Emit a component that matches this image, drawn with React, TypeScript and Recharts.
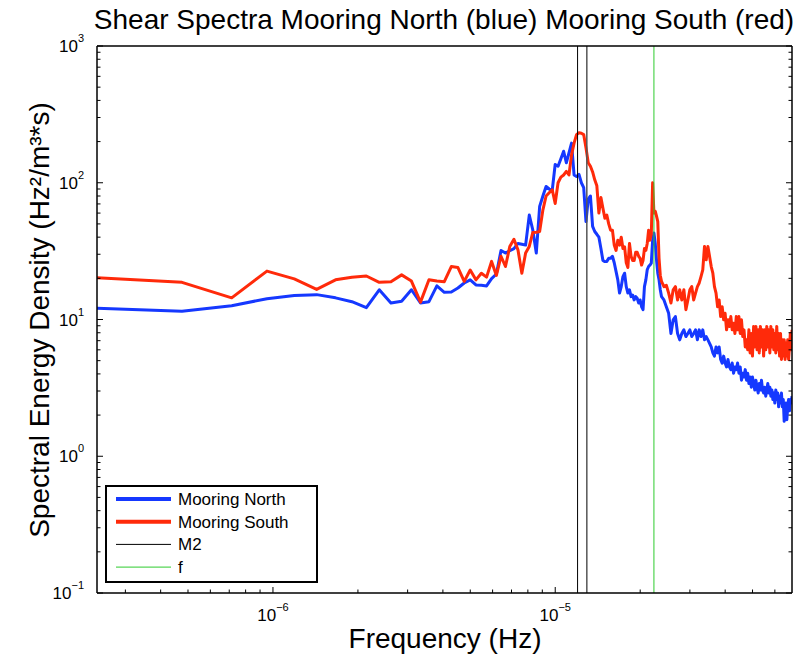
import React from 'react';
import { LineChart, Line, XAxis, YAxis, ReferenceLine, Legend } from 'recharts';

// ---- data ----
const DF = 2.38e-7; // frequency resolution (Hz)
const X_DOMAIN: [number, number] = [2.38e-7, 6.9e-5];
const Y_DOMAIN: [number, number] = [0.1, 1000];

// frequency bin indices (f = n * DF)
const BINS: number[] = [
  1, 2, 3, 4, 5, 6, 7, 8, 9, 10, 11, 12, 13, 14, 15, 16, 17, 18, 19, 20,
  21, 22, 23, 24, 25, 26, 27, 28, 29, 30, 31, 32, 33, 34, 35, 36, 37, 38, 39, 40,
  41, 42, 43, 44, 45, 46, 47, 48, 49, 50, 51, 52, 53, 54, 55, 56, 57, 58, 59, 60,
  61, 62, 63, 64, 65, 66, 67, 68, 69, 70, 71, 72, 73, 74, 75, 76, 77, 78, 79, 80,
  81, 82, 83, 84, 85, 86, 87, 88, 89, 90, 91, 92, 93, 94, 95, 96, 97, 98, 99, 100,
  102, 104, 106, 108, 110, 112, 114, 116, 118, 120,
  122, 124, 126, 128, 130, 132, 134, 136, 138, 140,
  142, 144, 146, 148, 150, 152, 154, 156, 158, 160,
  162, 164, 166, 168, 170, 172, 174, 176, 178, 180,
  182, 184, 186, 188, 190, 192, 194, 196, 198, 200,
  202, 204, 206, 208, 210, 212, 214, 216, 218, 220,
  222, 224, 226, 228, 230, 232, 234, 236, 238, 240,
  242, 244, 246, 248, 250, 252, 254, 256, 258, 260,
  262, 264, 266, 268, 270, 272, 274, 276, 278, 280,
  282, 284, 286, 288, 290,
];

const NORTH: number[] = [
  12.1, 11.5, 12.6, 14.2, 15.0, 15.2, 14.4, 13.5, 12.2, 16.5,
  13.2, 13.6, 16.5, 13.2, 13.5, 17.6, 15.8, 15.9, 17.0, 18.5,
  19.5, 17.9, 17.8, 17.6, 19.9, 21.5, 32.0, 30.6, 31.8, 33.0,
  36.0, 35.5, 35.0, 58.0, 45.0, 30.6, 67.0, 80.0, 94.0, 90.0,
  88.0, 136, 132, 150, 170, 140, 165, 195, 114, 111,
  115, 100, 92, 52, 76, 80, 48, 44, 42, 40,
  33, 27, 26.5, 26.6, 28, 28, 29, 26, 22.5, 19.5,
  15.6, 17.4, 20.6, 21.8, 17.4, 15.6, 16.5, 14.7, 15.1, 13.9,
  14.7, 14.3, 13.2, 13.9, 12.4, 11.8, 17.4, 19.5, 23.1, 24.4,
  25, 25.8, 38, 42.9, 36.2, 27.3, 21.8, 19.5, 16.5, 14.7,
  13.9, 12.4, 11.1, 7.9, 9.95, 10.5, 7.9, 7.1, 7.9, 8.4,
  7.5, 7.9, 8.4, 7.5, 7.9, 8.4, 7.1, 8.4, 7.5, 8.4,
  7.1, 7.5, 7.1, 6.7, 6.3, 5.7, 5.4, 6.3, 5.7, 6.3,
  5.1, 4.8, 5.4, 4.8, 4.5, 5.1, 4.5, 4.3, 4.8, 4.05,
  4.5, 4.3, 4.8, 4.05, 4.5, 3.6, 4.05, 3.8, 4.3, 3.6,
  4.05, 3.4, 3.8, 3.2, 3.8, 3.4, 3.05, 3.6, 3.2, 2.9,
  3.4, 3.05, 3.6, 3.05, 2.9, 3.2, 2.75, 3.05, 3.4, 2.9,
  3.2, 2.75, 3.05, 2.6, 2.9, 2.45, 3.05, 2.6, 2.9, 2.3,
  2.75, 2.45, 2.9, 2.3, 2.6, 1.8, 1.95, 2.45, 1.85, 2.3,
  2.6, 2.15, 2.6, 2.45, 2.75,
];

const SOUTH: number[] = [
  20.2, 18.7, 14.4, 22.6, 19.8, 16.6, 19.5, 20.4, 20.8, 18.7,
  18.9, 21.2, 19.1, 13.4, 19.5, 19.1, 18.9, 24.4, 24.0, 19.0,
  23.0, 19.5, 21.8, 20.4, 26.6, 21.0, 29.0, 24.4, 34.2, 38.6,
  32.3, 21.8, 30.6, 34.2, 43.3, 43.5, 44, 63.4, 80, 84.4,
  88.8, 70.6, 100, 110, 114, 121, 114, 160, 195, 225,
  232, 230, 225, 180, 140, 132, 120, 105, 95, 60,
  78, 65, 55, 58, 50, 45, 45, 35, 32, 38,
  35, 40, 33, 34, 26, 24, 36, 29, 27, 27,
  31, 31, 29, 28, 25, 27, 33, 32, 36, 45,
  38, 42, 100, 60, 62, 57, 52, 28, 21, 19,
  17.4, 17.8, 15.6, 13.2, 16.5, 17.4, 13.9, 16.5, 13.9, 16.5,
  11.8, 13.9, 16.5, 17.4, 13.9, 15.6, 17.4, 18.5, 20.6, 23.1,
  34.2, 27.3, 34.2, 28.9, 24.4, 21.8, 17.4, 15.6, 12.4, 13.9,
  10.5, 12.4, 9.95, 11.1, 8.4, 9.95, 8.9, 10.5, 8.4, 9.4,
  7.9, 10.5, 8.4, 10.5, 7.9, 9.95, 7.5, 8.4, 6.3, 7.1,
  6.0, 8.4, 5.7, 7.9, 5.4, 8.9, 6.3, 8.9, 6.0, 8.4,
  5.7, 8.9, 6.3, 8.4, 5.4, 8.4, 6.0, 8.9, 6.3, 8.4,
  5.7, 8.9, 6.3, 8.4, 6.0, 7.9, 5.7, 8.9, 6.0, 7.9,
  5.4, 7.9, 5.1, 7.1, 5.4, 7.1, 5.1, 6.7, 5.4, 7.1,
  5.1, 6.3, 7.9, 6.0, 8.4,
];

const M2_FREQS: number[] = [1.2e-5, 1.294e-5];
const F_FREQS: number[] = [2.237e-5];

const X_MAJOR: number[] = [1e-6, 1e-5];
const X_MAJOR_EXP: string[] = ['\u22126', '\u22125'];
const X_MINOR: number[] = [
  3e-7, 4e-7, 5e-7, 6e-7, 7e-7, 8e-7, 9e-7,
  2e-6, 3e-6, 4e-6, 5e-6, 6e-6, 7e-6, 8e-6, 9e-6,
  2e-5, 3e-5, 4e-5, 5e-5, 6e-5,
];
const Y_MAJOR: number[] = [0.1, 1, 10, 100, 1000];
const Y_MAJOR_EXP: string[] = ['\u22121', '0', '1', '2', '3'];
const Y_MINOR: number[] = [
  0.2, 0.3, 0.4, 0.5, 0.6, 0.7, 0.8, 0.9,
  2, 3, 4, 5, 6, 7, 8, 9,
  20, 30, 40, 50, 60, 70, 80, 90,
  200, 300, 400, 500, 600, 700, 800, 900,
];

const BLUE = '#1538ff';
const RED = '#ff2a0a';
const GREEN = '#2ecc2e';

const SERIES = [
  { key: 'north', name: 'Mooring North', color: BLUE },
  { key: 'south', name: 'Mooring South', color: RED },
];

const TITLE = 'Shear Spectra Mooring North (blue) Mooring South (red)';
const X_LABEL = 'Frequency (Hz)';
const Y_LABEL = 'Spectral Energy Density (Hz²/m³*s)';

const data = BINS.map((n, i) => ({ f: n * DF, north: NORTH[i], south: SOUTH[i] }));

const FONT = '"Liberation Sans", Arial, Helvetica, sans-serif';
const W = 796;
const H = 661;
// plot area: x 97..792, y 46..593
const MARGIN = { top: 36, right: 0, bottom: 38, left: 67 };

const majorIndex = (arr: number[], v: number) =>
  arr.findIndex((m) => Math.abs(m - v) / m < 1e-6);

const makeXTick = (side: 'bottom' | 'top') => (props: any) => {
  const { x, y, payload } = props;
  const idx = majorIndex(X_MAJOR, payload.value);
  const len = idx >= 0 ? 6 : 3.5;
  const dir = side === 'bottom' ? -1 : 1;
  return (
    <g>
      <line x1={x} x2={x} y1={y} y2={y + dir * len} stroke="#000" strokeWidth={1} />
      {side === 'bottom' && idx >= 0 && (
        <text x={x} y={y + 28} textAnchor="middle" fontFamily={FONT} fontSize={17} fill="#000">
          10
          <tspan dy={-10} fontSize={11}>{X_MAJOR_EXP[idx]}</tspan>
        </text>
      )}
    </g>
  );
};

const makeYTick = (side: 'left' | 'right') => (props: any) => {
  const { x, y, payload } = props;
  const idx = majorIndex(Y_MAJOR, payload.value);
  const len = idx >= 0 ? 6 : 3.5;
  const dir = side === 'left' ? 1 : -1;
  return (
    <g>
      <line x1={x} x2={x + dir * len} y1={y} y2={y} stroke="#000" strokeWidth={1} />
      {side === 'left' && idx >= 0 && (
        <text x={x - 13} y={y + 6} textAnchor="end" fontFamily={FONT} fontSize={17} fill="#000">
          10
          <tspan dy={-10} fontSize={11}>{Y_MAJOR_EXP[idx]}</tspan>
        </text>
      )}
    </g>
  );
};

const LEGEND_ITEMS = [
  { label: 'Mooring North', color: BLUE, width: 4 },
  { label: 'Mooring South', color: RED, width: 4 },
  { label: 'M2', color: '#000000', width: 1 },
  { label: 'f', color: GREEN, width: 1 },
];

const LegendBox = () => (
  <svg width={213} height={98} style={{ display: 'block' }}>
    <rect x={1} y={1} width={211} height={96} fill="#fff" stroke="#000" strokeWidth={2} />
    {LEGEND_ITEMS.map((it, i) => {
      const cy = 14 + i * 22.7;
      return (
        <g key={it.label}>
          <line x1={11} x2={66} y1={cy} y2={cy} stroke={it.color} strokeWidth={it.width} />
          <text x={73} y={cy + 6} fontFamily={FONT} fontSize={17} fill="#000">
            {it.label}
          </text>
        </g>
      );
    })}
  </svg>
);

const axisLine = { stroke: '#000', strokeWidth: 1.5 };

export default function App() {
  return (
    <div style={{ position: 'absolute', left: 0, top: 0, width: W, height: H, background: '#fff' }}>
      <LineChart width={W} height={H} data={data} margin={MARGIN}>
        <XAxis
          dataKey="f"
          type="number"
          scale="log"
          domain={X_DOMAIN}
          allowDataOverflow
          ticks={[...X_MAJOR, ...X_MINOR]}
          interval={0}
          height={30}
          tickSize={0}
          tickMargin={0}
          tickLine={false}
          axisLine={axisLine}
          tick={makeXTick('bottom')}
        />
        <XAxis
          xAxisId="top"
          orientation="top"
          type="number"
          scale="log"
          domain={X_DOMAIN}
          allowDataOverflow
          ticks={[...X_MAJOR, ...X_MINOR]}
          interval={0}
          height={10}
          tickSize={0}
          tickMargin={0}
          tickLine={false}
          axisLine={axisLine}
          tick={makeXTick('top')}
        />
        <YAxis
          type="number"
          scale="log"
          domain={Y_DOMAIN}
          allowDataOverflow
          ticks={[...Y_MAJOR, ...Y_MINOR]}
          interval={0}
          width={30}
          tickSize={0}
          tickMargin={0}
          tickLine={false}
          axisLine={axisLine}
          tick={makeYTick('left')}
        />
        <YAxis
          yAxisId="right"
          orientation="right"
          type="number"
          scale="log"
          domain={Y_DOMAIN}
          allowDataOverflow
          ticks={[...Y_MAJOR, ...Y_MINOR]}
          interval={0}
          width={4}
          tickSize={0}
          tickMargin={0}
          tickLine={false}
          axisLine={axisLine}
          tick={makeYTick('right')}
        />
        {SERIES.map((s) => (
          <Line
            key={s.key}
            type="linear"
            dataKey={s.key}
            name={s.name}
            stroke={s.color}
            strokeWidth={3}
            dot={false}
            isAnimationActive={false}
            strokeLinejoin="round"
          />
        ))}
        {M2_FREQS.map((v, i) => (
          <ReferenceLine key={'m2' + i} x={v} stroke={i === 0 ? '#000' : '#555'} strokeWidth={i === 0 ? 1 : 1.5} />
        ))}
        {F_FREQS.map((v, i) => (
          <ReferenceLine key={'f' + i} x={v} stroke={GREEN} strokeWidth={1} />
        ))}
        <Legend
          layout="vertical"
          align="center"
          verticalAlign="middle"
          content={() => <LegendBox />}
          wrapperStyle={{ position: 'absolute', left: 105, top: 485, width: 213, height: 98 }}
        />
      </LineChart>
      <svg
        width={W}
        height={H}
        style={{ position: 'absolute', left: 0, top: 0, pointerEvents: 'none' }}
      >
        <text x={444} y={29} textAnchor="middle" fontFamily={FONT} fontSize={28} fill="#000">
          {TITLE}
        </text>
        <text x={445} y={648} textAnchor="middle" fontFamily={FONT} fontSize={28} fill="#000">
          {X_LABEL}
        </text>
        <text
          x={49}
          y={320}
          textAnchor="middle"
          fontFamily={FONT}
          fontSize={28}
          fill="#000"
          transform="rotate(-90 49 320)"
        >
          {Y_LABEL}
        </text>
      </svg>
    </div>
  );
}
